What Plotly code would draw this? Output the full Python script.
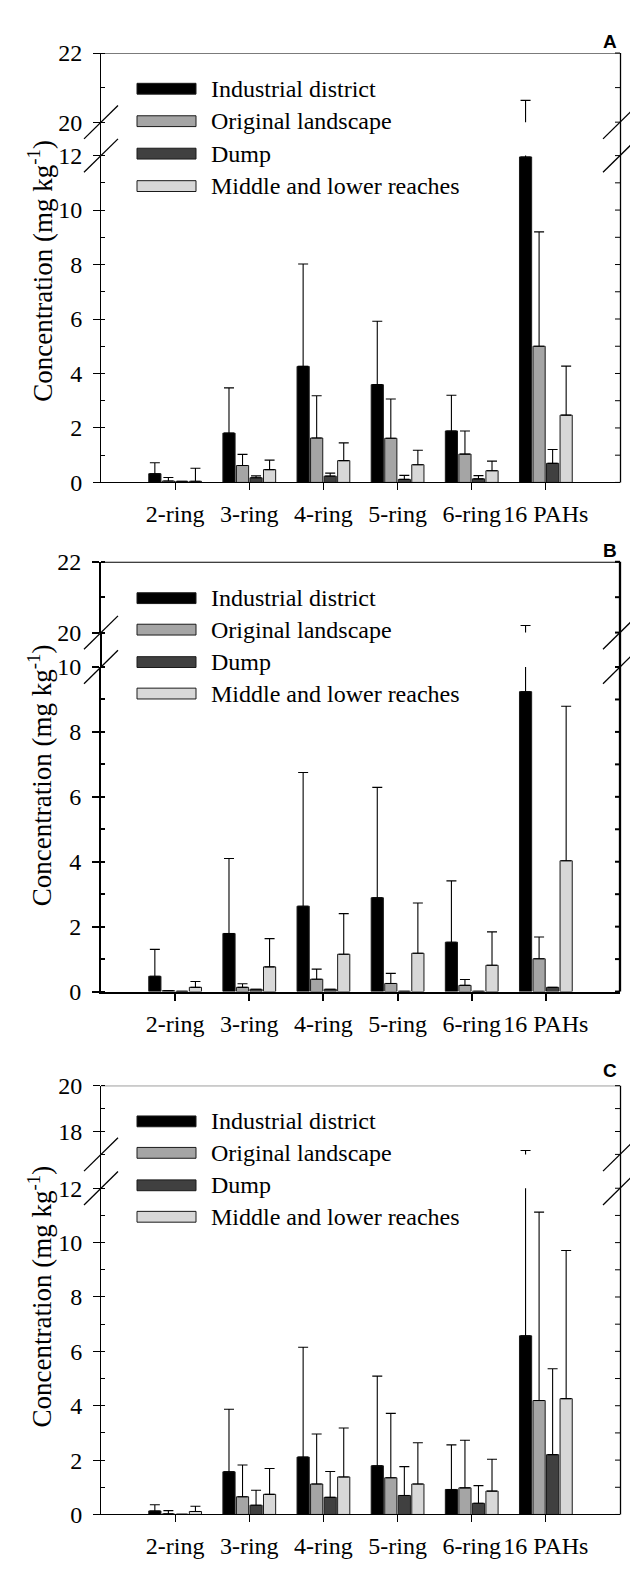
import plotly.graph_objects as go

W, H = 630, 1573

categories = ["2-ring", "3-ring", "4-ring", "5-ring", "6-ring", "16 PAHs"]
series_names = ["Industrial district", "Original landscape", "Dump", "Middle and lower reaches"]

# Panel A: means and (upper) standard deviations, mg/kg
a_industrial = [0.32, 1.81, 4.26, 3.59, 1.89, 11.95]
a_industrial_sd = [0.40, 1.66, 3.76, 2.33, 1.31, 8.68]
a_original = [0.05, 0.62, 1.63, 1.62, 1.04, 5.00]
a_original_sd = [0.13, 0.41, 1.55, 1.44, 0.85, 4.20]
a_dump = [0.04, 0.17, 0.23, 0.11, 0.13, 0.70]
a_dump_sd = [0.00, 0.07, 0.11, 0.15, 0.12, 0.51]
a_middle = [0.04, 0.47, 0.80, 0.65, 0.43, 2.47]
a_middle_sd = [0.48, 0.35, 0.65, 0.53, 0.35, 1.80]

# Panel B
b_industrial = [0.47, 1.79, 2.63, 2.89, 1.52, 9.24]
b_industrial_sd = [0.83, 2.31, 4.12, 3.40, 1.89, 10.96]
b_original = [0.03, 0.13, 0.38, 0.25, 0.19, 1.01]
b_original_sd = [0.00, 0.11, 0.31, 0.31, 0.18, 0.67]
b_dump = [0.01, 0.07, 0.07, 0.01, 0.01, 0.13]
b_dump_sd = [0.00, 0.00, 0.00, 0.00, 0.00, 0.00]
b_middle = [0.13, 0.76, 1.15, 1.18, 0.81, 4.03]
b_middle_sd = [0.18, 0.87, 1.25, 1.55, 1.03, 4.76]

# Panel C
c_industrial = [0.13, 1.57, 2.11, 1.79, 0.92, 6.57]
c_industrial_sd = [0.23, 2.30, 4.04, 3.30, 1.64, 10.60]
c_original = [0.02, 0.65, 1.12, 1.35, 0.98, 4.19]
c_original_sd = [0.12, 1.17, 1.84, 2.37, 1.75, 6.93]
c_dump = [0.01, 0.34, 0.63, 0.70, 0.41, 2.20]
c_dump_sd = [0.00, 0.55, 0.95, 1.06, 0.65, 3.16]
c_middle = [0.11, 0.74, 1.38, 1.12, 0.86, 4.26]
c_middle_sd = [0.19, 0.95, 1.80, 1.52, 1.17, 5.45]

panel_labels = ["A", "B", "C"]
y_title = "Concentration (mg kg<sup>-1</sup>)"

# ---------------- styling / layout geometry (pixels) ----------------
colors = ["#000000", "#a5a5a5", "#404040", "#d8d8d8"]
SERIF = "Liberation Serif, Times New Roman, Times, serif"
SANS = "Liberation Sans, Arial, Helvetica, sans-serif"
FS = 24
AX_L, AX_R = 101, 620

panels = [
    dict(series=[(a_industrial, a_industrial_sd), (a_original, a_original_sd),
                 (a_dump, a_dump_sd), (a_middle, a_middle_sd)],
         low=[0, 12], low_px=(477.3, 145.0), up=[20, 22], up_px=(111.0, 40.7),
         lw=1, label_y=29, legend_y=[77, 110, 143, 176], title_y=262),
    dict(series=[(b_industrial, b_industrial_sd), (b_original, b_original_sd),
                 (b_dump, b_dump_sd), (b_middle, b_middle_sd)],
         low=[0, 10], low_px=(995.0, 665.0), up=[20, 22], up_px=(630.0, 558.0),
         lw=2, label_y=547, legend_y=[595, 627, 660, 692], title_y=775),
    dict(series=[(c_industrial, c_industrial_sd), (c_original, c_original_sd),
                 (c_dump, c_dump_sd), (c_middle, c_middle_sd)],
         low=[0, 12], low_px=(1526.7, 1195.0), up=[17, 20], up_px=(1160.6, 1090.7),
         lw=1, label_y=1075, legend_y=[1127, 1159, 1192, 1224], title_y=1305),
]


def X(px):
    return px / W


def Y(py):
    return 1 - py / H


fig = go.Figure()
layout = dict(width=W, height=H, margin=dict(l=0, r=0, t=0, b=0), autosize=False,
              paper_bgcolor="white", plot_bgcolor="white", showlegend=False,
              barmode="group", bargap=0.27, bargroupgap=0.1,
              font=dict(family=SERIF, size=FS, color="black"))
shapes = []
annotations = []

for i, p in enumerate(panels):
    xn = "" if i == 0 else str(i + 1)
    xname = "x" + xn
    ylo = 2 * i + 1
    yup = ylo + 1
    yn = lambda k: "y" if k == 1 else "y%d" % k
    lw = p["lw"]
    off = 0.5 if lw % 2 == 1 else 0.0

    for k, (vals, sd) in enumerate(p["series"]):
        for yax in (ylo, yup):
            fig.add_trace(go.Bar(
                x=categories, y=vals, name=series_names[k],
                xaxis=xname, yaxis=yn(yax),
                marker=dict(color=colors[k], line=dict(color="#1a1a1a", width=1)),
                error_y=dict(type="data", symmetric=False, array=sd,
                             arrayminus=[0] * len(sd), color="black",
                             thickness=1.1, width=5),
                hoverinfo="skip"))

    layout["xaxis" + xn] = dict(
        domain=[X(AX_L), X(AX_R)], anchor=yn(ylo), type="category",
        range=[-1, 6], showline=True, linecolor="black", linewidth=lw,
        ticks="outside", ticklen=7, tickwidth=lw, tickcolor="black",
        showgrid=False, zeroline=False, ticklabelstandoff=3, tickangle=0,
        tickfont=dict(family=SERIF, size=FS))
    common = dict(anchor=xname, showline=True, linecolor="black", linewidth=lw,
                  showgrid=False, zeroline=False, ticklabelstandoff=6,
                  ticks="outside", ticklen=7, tickwidth=lw, tickcolor="black",
                  dtick=2, tick0=0,
                  minor=dict(ticks="inside", dtick=1, ticklen=4, tickwidth=lw,
                             tickcolor="black"),
                  tickfont=dict(family=SERIF, size=FS))
    layout["yaxis" + ("" if ylo == 1 else str(ylo))] = dict(
        domain=[Y(p["low_px"][0]), Y(p["low_px"][1])], range=p["low"], **common)
    layout["yaxis%d" % yup] = dict(
        domain=[Y(p["up_px"][0]), Y(p["up_px"][1])], range=p["up"], **common)

    # top frame line
    shapes.append(dict(type="line", xref=xname, yref=yn(yup), x0=-1, x1=6,
                       y0=p["up"][1], y1=p["up"][1],
                       line=dict(color="black", width=lw)))
    # left axis line through the break gap
    shapes.append(dict(type="line", xref="paper", yref="paper",
                       x0=X(AX_L - off), x1=X(AX_L - off),
                       y0=Y(p["low_px"][1]), y1=Y(p["up_px"][0]),
                       line=dict(color="black", width=lw)))
    # right frame line (full height)
    shapes.append(dict(type="line", xref="paper", yref="paper",
                       x0=X(AX_R + off), x1=X(AX_R + off),
                       y0=Y(p["low_px"][0]), y1=Y(p["up_px"][1]),
                       line=dict(color="black", width=lw + 0.3)))
    # right-hand inward ticks, one per unit, on both segments
    for (py0, py1), rng in ((p["low_px"], p["low"]), (p["up_px"], p["up"])):
        for v in range(rng[0], rng[1] + 1):
            py = py0 + (py1 - py0) * (v - rng[0]) / (rng[1] - rng[0])
            shapes.append(dict(type="line", xref="paper", yref="paper",
                               x0=X(AX_R - 5), x1=X(AX_R), y0=Y(py), y1=Y(py),
                               line=dict(color="black", width=lw)))
    # break slashes
    for ax_px in (AX_L, AX_R):
        for yc in (p["up_px"][0], p["low_px"][1]):
            shapes.append(dict(type="line", xref="paper", yref="paper",
                               x0=X(ax_px - 17), x1=X(ax_px + 17),
                               y0=Y(yc + 17), y1=Y(yc - 17),
                               line=dict(color="black", width=1.3)))
    # legend (drawn)
    for k, ly in enumerate(p["legend_y"]):
        shapes.append(dict(type="rect", xref="paper", yref="paper",
                           x0=X(137), x1=X(196), y0=Y(ly + 5.5), y1=Y(ly - 5.5),
                           fillcolor=colors[k], line=dict(color="#1a1a1a", width=1)))
        annotations.append(dict(text=series_names[k], xref="paper", yref="paper",
                                x=X(209), y=Y(ly), xanchor="left", yanchor="middle",
                                showarrow=False, font=dict(family=SERIF, size=FS)))
    # panel label
    annotations.append(dict(text="<b>%s</b>" % panel_labels[i], xref="paper", yref="paper",
                            x=X(619), y=Y(p["label_y"]), xanchor="right", yanchor="middle",
                            showarrow=False, font=dict(family=SANS, size=19)))
    # y-axis title
    annotations.append(dict(text=y_title, xref="paper", yref="paper",
                            x=X(40), y=Y(p["title_y"]), xanchor="center", yanchor="middle",
                            textangle=-90, showarrow=False,
                            font=dict(family=SERIF, size=27)))

layout["shapes"] = shapes
layout["annotations"] = annotations
fig.update_layout(**layout)
fig.write_html("out.html", config={"displayModeBar": False},
               post_script="document.body.style.margin='0';document.body.style.overflow='hidden';")
